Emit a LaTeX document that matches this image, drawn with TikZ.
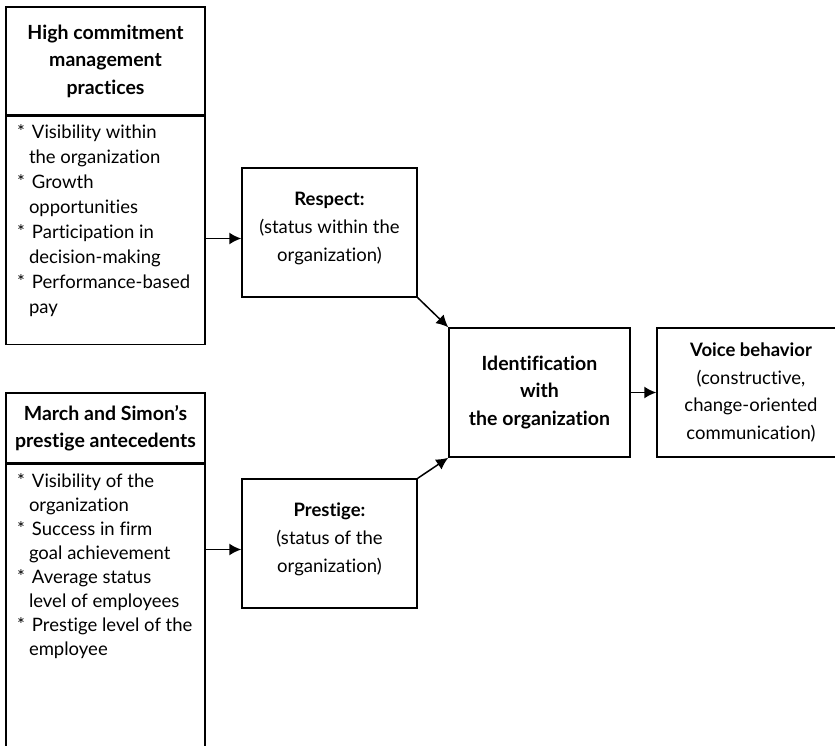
\documentclass[tikz,border=0pt]{standalone}
\usepackage{fontspec}
\setmainfont{Lato}[Ligatures=NoCommon]
\usetikzlibrary{arrows.meta,positioning}

\newcommand{\itm}{\makebox[15pt][l]{*}}
\newcommand{\cnt}{\hspace*{12pt}}

\tikzset{
	box/.style={draw, line width=1.5pt, align=center, inner sep=0pt,
		font=\fontsize{18.5}{27.5}\selectfont},
	head/.style={box, font=\fontsize{19.5}{27.5}\selectfont\bfseries, minimum width=199pt},
	list/.style={box, minimum width=199pt, align=left,
		font=\fontsize{18.5}{25}\selectfont},
	mid/.style={box, minimum width=175pt, minimum height=129pt,
		font=\fontsize{18.5}{28}\selectfont},
	link/.style={line width=1.5pt, -{Latex[length=12pt,width=12pt]}}
}

\begin{document}
\begin{tikzpicture}[x=1pt, y=-1pt]
	\useasboundingbox (0,0) rectangle (835,746);
	\clip (0,0) rectangle (835,746);

	% left column
	\node[head, minimum height=108pt] (hcm) at (105.5,61) {High commitment\\management\\practices};
	\node[list, minimum height=228pt, below=0pt of hcm] (hcmlist)
		{\parbox[c][222pt][t]{177pt}{\vspace{5pt}
		\itm Visibility within\\ \cnt the organization\\
		\itm Growth\\ \cnt opportunities\\
		\itm Participation in\\ \cnt decision-making\\
		\itm Performance-based\\ \cnt pay}};

	\node[head, minimum height=70pt] (ms) at (105.5,428) {March and Simon's\\prestige antecedents};
	\node[list, minimum height=330pt, below=0pt of ms,
		font=\fontsize{18.5}{24}\selectfont] (mslist)
		{\parbox[c][324pt][t]{177pt}{\vspace{6pt}
		\itm Visibility of the\\ \cnt organization\\
		\itm Success in firm\\ \cnt goal achievement\\
		\itm Average status\\ \cnt level of employees\\
		\itm Prestige level of the\\ \cnt employee}};

	% middle and right
	\node[mid] (respect) at (329.5,232.5) {\textbf{Respect:}\\(status within the\\organization)\\[-16pt]};
	\node[mid] (prestige) at (329.5,543.5) {\textbf{Prestige:}\\(status of the\\organization)\\[-17pt]};
	\node[box, minimum width=181pt, minimum height=129pt, font=\fontsize{19.5}{27.5}\selectfont\bfseries]
		(ident) at (539.5,392.5) {Identification\\with\\the organization};
	\node[box, minimum width=188pt, minimum height=129pt] (voice) at (751,392.5)
		{\textbf{Voice behavior}\\(constructive,\\change-oriented\\communication)};
	\coordinate (rin) at ([yshift=-6pt]respect.west);
	\coordinate (pin) at ([yshift=-6pt]prestige.west);

	\draw[link] (hcmlist.east |- rin) -- (rin);
	\draw[link] (mslist.east |- pin) -- (pin);
	\draw[link] (respect.south east) -- (ident.north west);
	\draw[link] (prestige.north east) -- (ident.south west);
	\draw[link] (ident) -- (voice);
\end{tikzpicture}
\end{document}
